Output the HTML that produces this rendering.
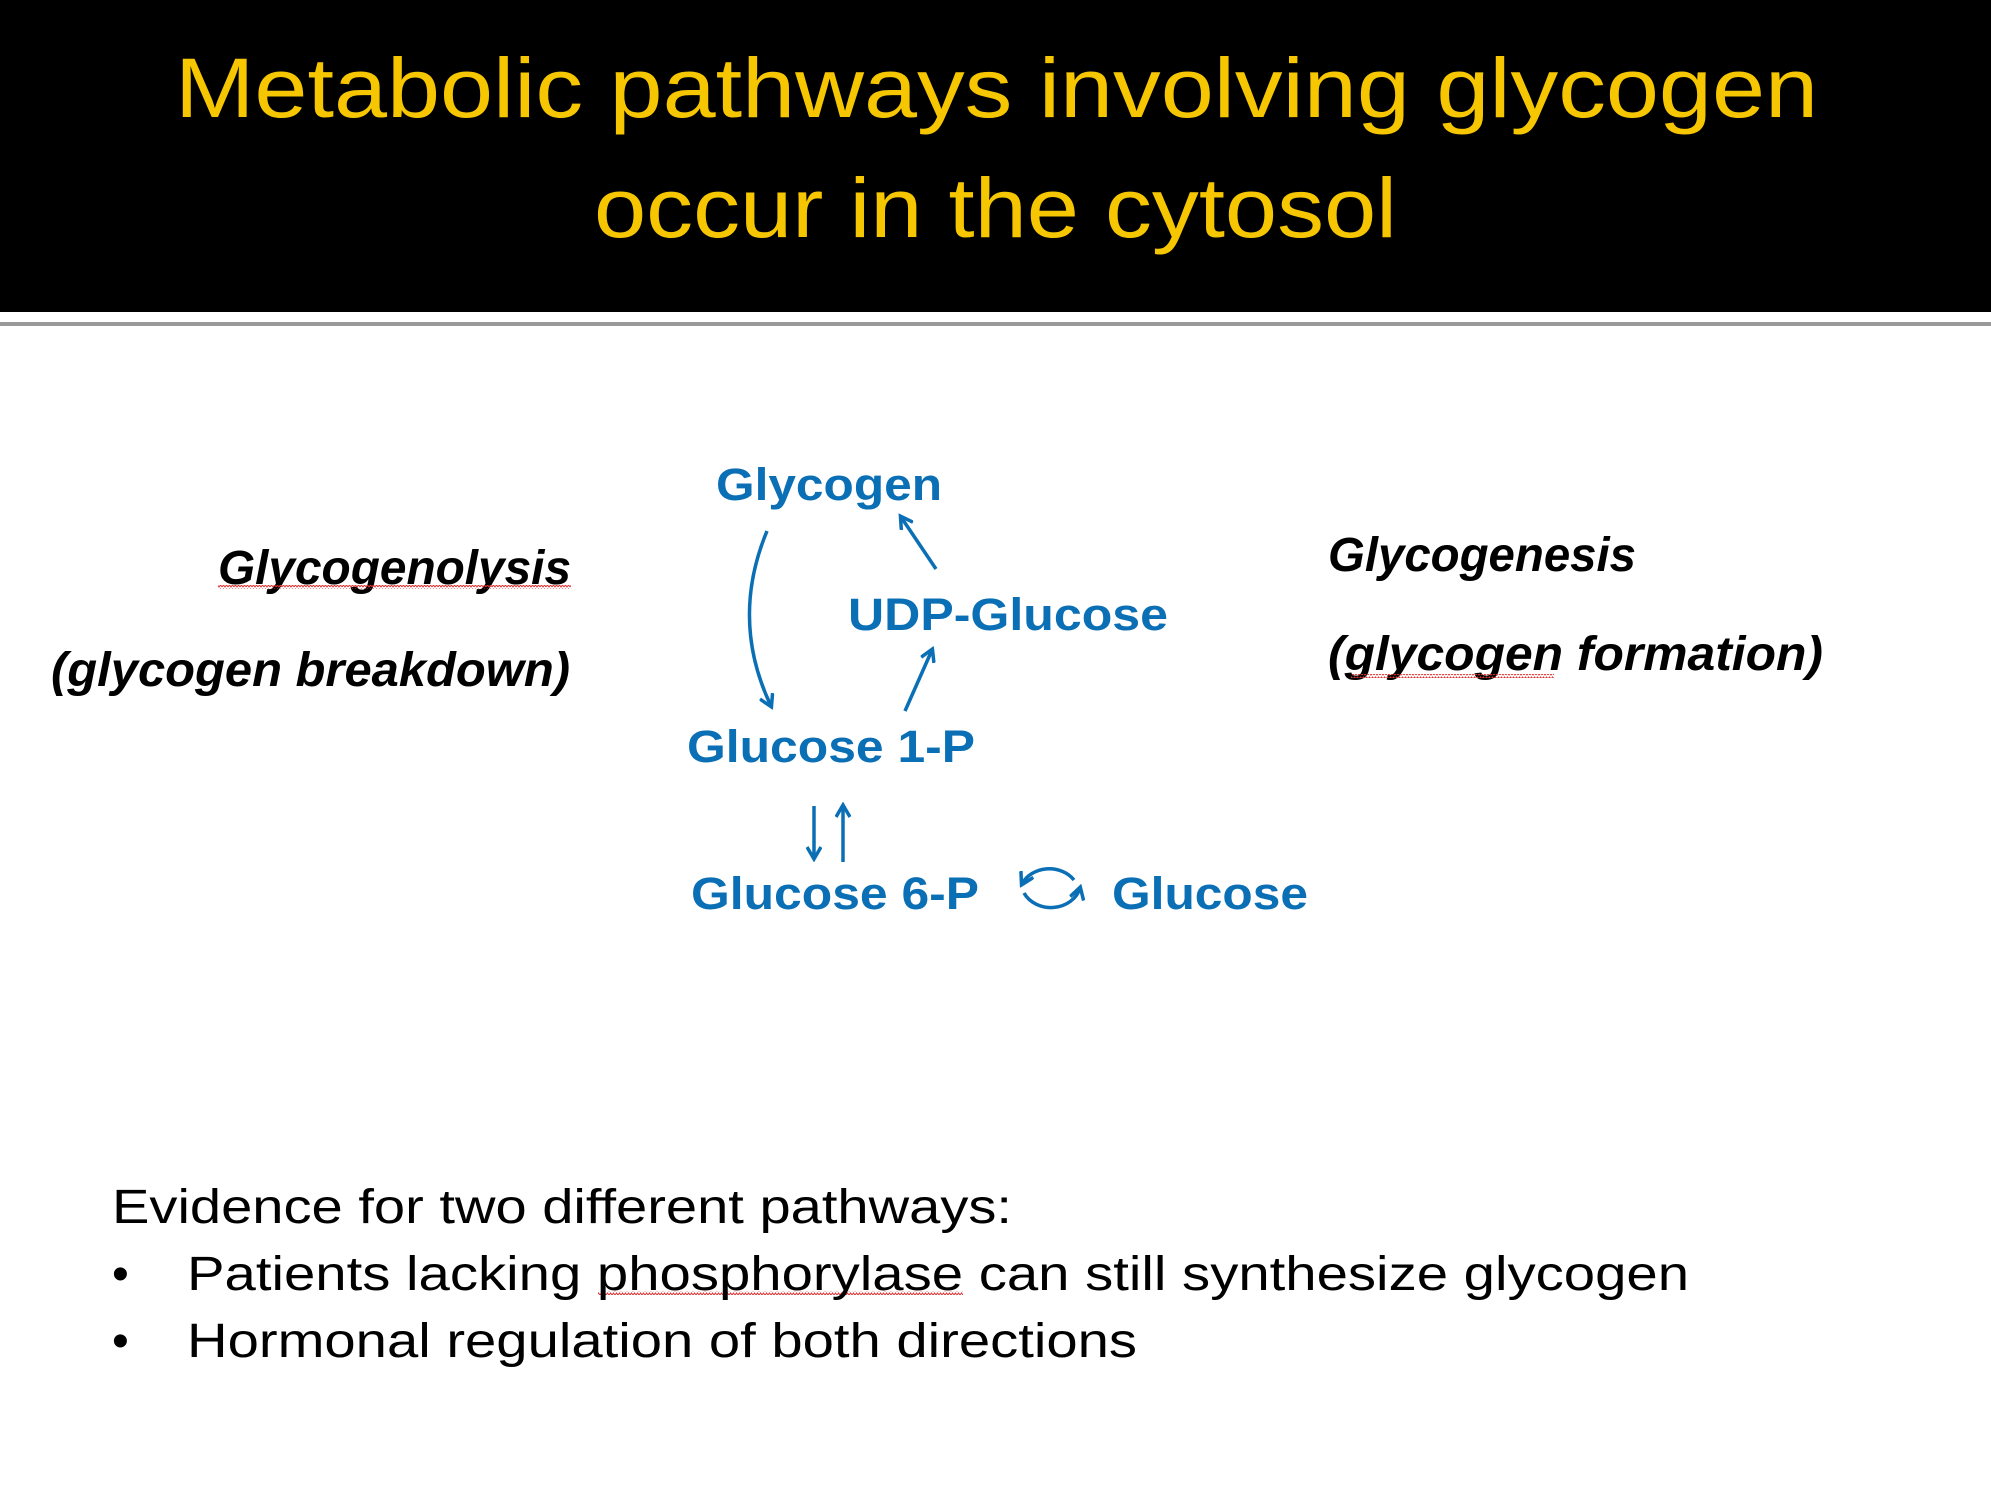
<!DOCTYPE html>
<html><head><meta charset="utf-8"><style>
html,body{margin:0;padding:0;background:#fff}
svg{display:block}
</style></head><body>
<svg width="1991" height="1496" viewBox="0 0 1991 1496" xmlns="http://www.w3.org/2000/svg">
<defs>
<marker id="ah" markerWidth="16" markerHeight="16" refX="12" refY="8" orient="auto" markerUnits="userSpaceOnUse"><path d="M1,1 L13,8 L1,15" fill="none" stroke="#0a6fb5" stroke-width="3.5"/></marker>
<pattern id="wave" width="6" height="4" patternUnits="userSpaceOnUse"><path d="M0,3 L1.5,1 L3,3 L4.5,1 L6,3" fill="none" stroke="#d33" stroke-width="1"/></pattern>
</defs>
<rect x="0" y="0" width="1991" height="312" fill="#000"/>
<rect x="0" y="322" width="1991" height="4" fill="#9a9a9a"/>
<g fill="#f6c600" font-family="'Liberation Sans Narrow','Liberation Sans',sans-serif" font-size="84">
<text x="175" y="117" textLength="1643" lengthAdjust="spacingAndGlyphs">Metabolic pathways involving glycogen</text>
<text x="594" y="237" textLength="803" lengthAdjust="spacingAndGlyphs">occur in the cytosol</text>
</g>
<g font-family="'Liberation Sans',sans-serif" font-style="italic" font-weight="bold" font-size="48" fill="#000">
<text x="218" y="584" textLength="353" lengthAdjust="spacingAndGlyphs">Glycogenolysis</text>
<text x="51" y="686" textLength="519" lengthAdjust="spacingAndGlyphs">(glycogen breakdown)</text>
<text x="1328" y="571" textLength="308" lengthAdjust="spacingAndGlyphs">Glycogenesis</text>
<text x="1328" y="670" textLength="495" lengthAdjust="spacingAndGlyphs">(glycogen formation)</text>
</g>
<rect x="218" y="585" width="353" height="4" fill="url(#wave)"/>
<rect x="1351" y="674" width="203" height="4" fill="url(#wave)"/>
<rect x="598" y="1291" width="365" height="4" fill="url(#wave)"/>
<g fill="#0a6fb5" font-family="'Liberation Sans',sans-serif" font-weight="bold" font-size="45">
<text x="716" y="500" textLength="226" lengthAdjust="spacingAndGlyphs">Glycogen</text>
<text x="848" y="630" textLength="320" lengthAdjust="spacingAndGlyphs">UDP-Glucose</text>
<text x="687" y="762" textLength="288" lengthAdjust="spacingAndGlyphs">Glucose 1-P</text>
<text x="691" y="909" textLength="288" lengthAdjust="spacingAndGlyphs">Glucose 6-P</text>
<text x="1112" y="909" textLength="196" lengthAdjust="spacingAndGlyphs">Glucose</text>
</g>
<g fill="none" stroke="#0a6fb5" stroke-width="3.5" marker-end="url(#ah)">
<path d="M767,531 Q730,620 771,706"/>
<path d="M936,569 L901,517"/>
<path d="M905,711 L932,650"/>
<path d="M814,806 L814,858"/>
<path d="M843,862 L843,806"/>
<path d="M1074,880 A30,26 0 0 0 1022,884"/>
<path d="M1024,893 A30,26 0 0 0 1080,888"/>
</g>
<g font-family="'Liberation Sans',sans-serif" font-size="48" fill="#000">
<text x="112" y="1223" textLength="900" lengthAdjust="spacingAndGlyphs">Evidence for two different pathways:</text>
<text x="112" y="1290">•</text>
<text x="187" y="1290" textLength="1502" lengthAdjust="spacingAndGlyphs">Patients lacking phosphorylase can still synthesize glycogen</text>
<text x="112" y="1357">•</text>
<text x="187" y="1357" textLength="950" lengthAdjust="spacingAndGlyphs">Hormonal regulation of both directions</text>
</g>
</svg>
</body></html>
